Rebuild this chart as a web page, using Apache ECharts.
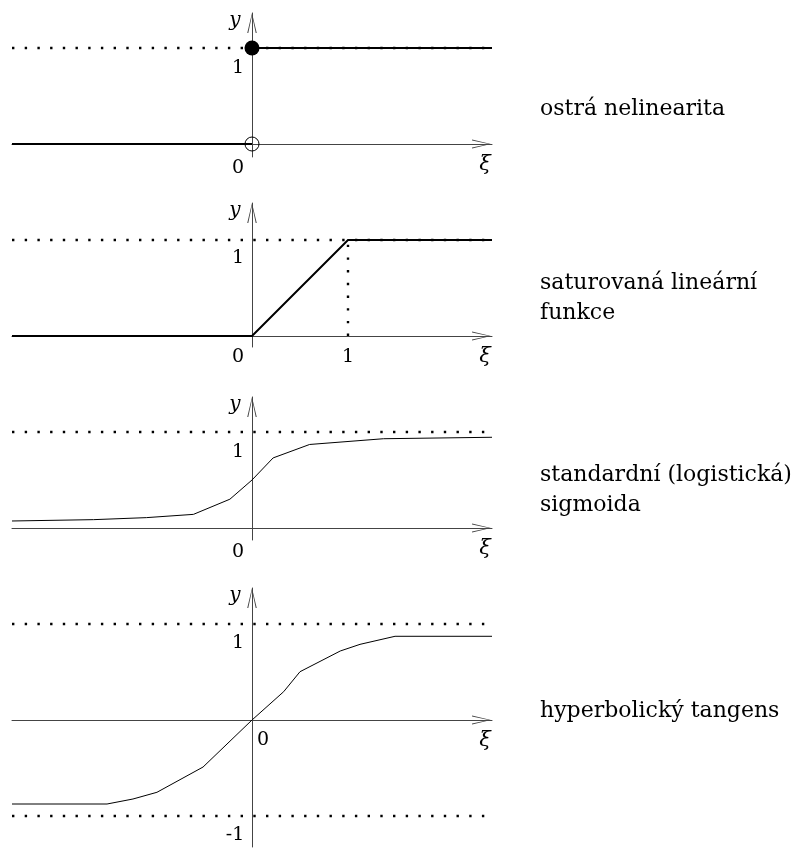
<!DOCTYPE html>
<html><head><meta charset="utf-8">
<script src="https://cdn.jsdelivr.net/npm/echarts@6/dist/echarts.min.js"></script>
<style>html,body{margin:0;padding:0;background:#fff}#c{width:802px;height:848px}</style>
</head><body><div id="c"></div>
<script>
// ---- data ----
const xRange = [-2.5, 2.5];
const stepLow = [[-2.5, 0], [0, 0]];
const stepHigh = [[0, 1], [2.5, 1]];
const stepClosed = [[0, 1]];
const stepOpen = [[0, 0]];
const rampLine = [[-2.5, 0], [0, 0], [1, 1], [2.5, 1]];
const rampGuide = [[1, 0], [1, 1]];
const sigmoidLine = [[-2.5, 0.073], [-1.65, 0.087], [-1.10, 0.108], [-0.61, 0.142], [-0.23, 0.30], [0, 0.50], [0.22, 0.73], [0.60, 0.87], [1.37, 0.93], [2.5, 0.945]];
const tanhLine = [[-2.5, -0.875], [-1.51, -0.875], [-1.24, -0.823], [-0.99, -0.753], [-0.51, -0.49], [0, 0], [0.33, 0.295], [0.5, 0.503], [0.92, 0.719], [1.125, 0.788], [1.49, 0.872], [2.5, 0.872]];
const asymptoteUpper = [[-2.5, 1], [2.5, 1]];
const asymptoteLower = [[-2.5, -1], [2.5, -1]];
const panelNames = [['ostrá nelinearita'], ['saturovaná lineární', 'funkce'], ['standardní (logistická)', 'sigmoida'], ['hyperbolický tangens']];
const xTickLabels = [['0'], ['0', '1'], ['0'], ['0']];
const xTickValues = [[0], [0, 1], [0], [0]];
const yTickLabels = [['1'], ['1'], ['1'], ['1', '-1']];
const yTickValues = [[1], [1], [1], [1, -1]];
const xName = 'ξ';
const yName = 'y';
const yRanges = [[-0.135, 1.365], [-0.115, 1.385], [-0.125, 1.365], [-1.323, 1.375]];

// ---- layout / style ----
const PX = 96;              // pixels per unit
const axisYs = [144, 336, 528, 720];
const gridLeft = 12, gridWidth = 480;
const serif = 'DejaVu Serif';
const axisColor = '#444';
const arrowPath = 'path://M5,0 L10,21 L8.9,21 L5,2.6 L1.1,21 L0,21 Z';

const grids = [], xAxes = [], yAxes = [], series = [];
yRanges.forEach((r, i) => {
  const top = axisYs[i] - r[1] * PX;
  grids.push({left: gridLeft, width: gridWidth, top: top, height: (r[1] - r[0]) * PX, containLabel: false});
  const axisLine = {show: true, onZero: true, lineStyle: {color: axisColor, width: 1}};
  xAxes.push({type: 'value', gridIndex: i, min: xRange[0], max: xRange[1],
    axisLine: Object.assign({}, axisLine, {symbol: ['none', arrowPath], symbolSize: [9, 21], symbolOffset: [0, -10.5]}),
    axisTick: {show: false}, axisLabel: {show: false}, splitLine: {show: false}});
  yAxes.push({type: 'value', gridIndex: i, min: r[0], max: r[1],
    axisLine: Object.assign({}, axisLine, {symbol: ['none', arrowPath], symbolSize: [10, 20], symbolOffset: [0, -10]}),
    axisTick: {show: false}, axisLabel: {show: false}, splitLine: {show: false}});
});

function line(data, gi, width, dotted, z) {
  return {type: 'line', xAxisIndex: gi, yAxisIndex: gi, data: data, symbol: 'none', silent: true,
    animation: false, z: z || 3,
    lineStyle: dotted ? {color: '#000', width: 2.4, type: [2.4, 10.3], cap: 'butt'} : {color: '#000', width: width, cap: 'butt', join: 'miter'}};
}

// panel 1
series.push(line(asymptoteUpper, 0, 0, true, 4));
series.push(line(stepLow, 0, 2));
series.push(line(stepHigh, 0, 2));
series.push({type: 'scatter', xAxisIndex: 0, yAxisIndex: 0, data: stepClosed, symbol: 'circle', symbolSize: 15,
  itemStyle: {color: '#000', opacity: 1}, silent: true, animation: false, z: 5});
series.push({type: 'scatter', xAxisIndex: 0, yAxisIndex: 0, data: stepOpen, symbol: 'circle', symbolSize: 14,
  itemStyle: {color: 'rgba(0,0,0,0)', borderColor: '#000', borderWidth: 1, opacity: 1}, silent: true, animation: false, z: 5});
// panel 2
series.push(line(asymptoteUpper, 1, 0, true, 4));
series.push(line(rampGuide, 1, 0, true, 4));
series.push(line(rampLine, 1, 2));
// panel 3
series.push(line(asymptoteUpper, 2, 0, true, 4));
series.push(line(sigmoidLine, 2, 1));
// panel 4
series.push(line(asymptoteUpper, 3, 0, true, 4));
series.push(line(asymptoteLower, 3, 0, true, 4));
series.push(line(tanhLine, 3, 1));

// text labels anchored at data positions
const xTickOffsets = [[[-14, 24]], [[-14, 21], [0, 21]], [[-14, 24]], [[11, 20]]];
const yTickOffsets = [[[-14, 20]], [[-14, 18]], [[-14, 20]], [[-14, 19], [-17, 19]]];
yRanges.forEach((r, i) => {
  const items = [];
  xTickValues[i].forEach((v, k) => items.push({value: [v, 0], name: xTickLabels[i][k], label: {offset: xTickOffsets[i][k]}}));
  yTickValues[i].forEach((v, k) => items.push({value: [0, v], name: yTickLabels[i][k], label: {offset: yTickOffsets[i][k]}}));
  items.push({value: [xRange[1], 0], name: xName, label: {offset: [-7, 21], fontStyle: 'italic', fontSize: 21}});
  items.push({value: [0, r[1]], name: yName, label: {offset: [-17, 8], fontStyle: 'italic', fontSize: 20}});
  series.push({type: 'scatter', xAxisIndex: i, yAxisIndex: i, data: items, symbolSize: 1,
    itemStyle: {color: 'rgba(0,0,0,0)'}, silent: true, animation: false, z: 6,
    label: {show: true, position: 'inside', formatter: '{b}', color: '#000', fontFamily: serif, fontSize: 19,
      align: 'center', verticalAlign: 'middle', textBorderWidth: 0, opacity: 1}});
});

const nameBaselines = [[115], [289, 319], [481, 511], [717]];
const graphic = [];
panelNames.forEach((lines, i) => lines.forEach((t, k) => graphic.push({
  type: 'text', left: 540, top: nameBaselines[i][k] - 17, silent: true,
  style: {text: t, fill: '#000', font: '22px "DejaVu Serif"'}
})));

const chart = echarts.init(document.getElementById('c'), null, {renderer: 'canvas'});
chart.setOption({animation: false, backgroundColor: '#fff', grid: grids, xAxis: xAxes, yAxis: yAxes, series: series, graphic: graphic});
</script></body></html>
